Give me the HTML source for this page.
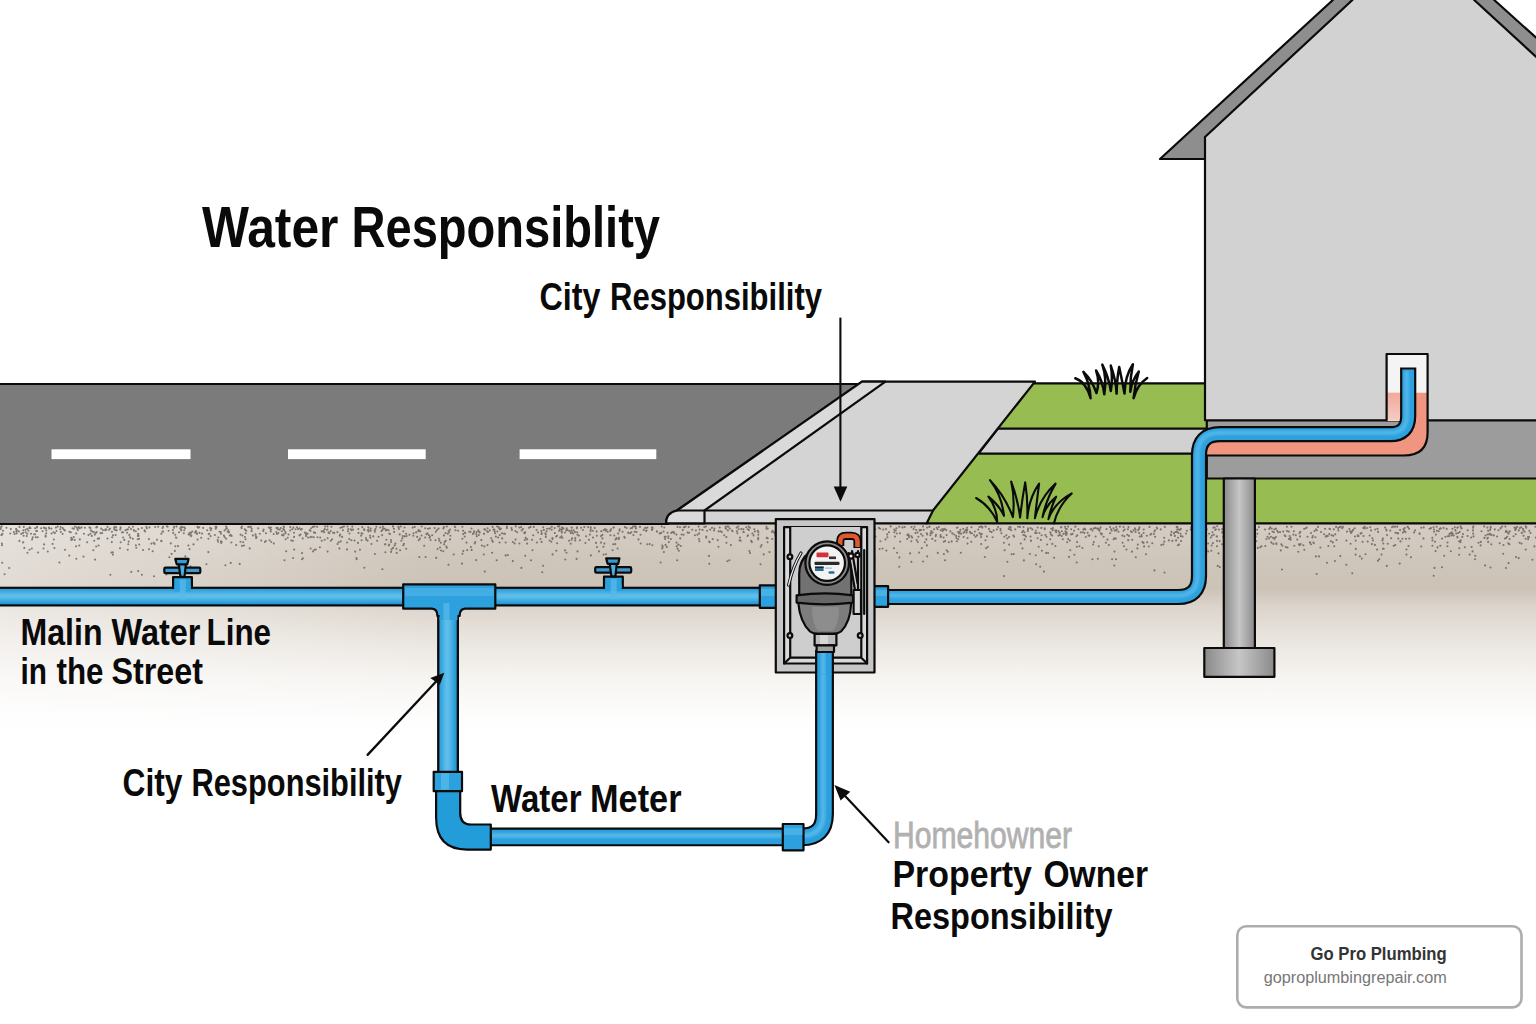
<!DOCTYPE html>
<html><head><meta charset="utf-8"><title>Water Responsibility</title>
<style>
html,body{margin:0;padding:0;background:#fff;}
body{width:1536px;height:1024px;overflow:hidden;font-family:"Liberation Sans",sans-serif;}
svg{display:block;position:absolute;left:0;top:0;}
text{font-family:"Liberation Sans",sans-serif;}
.b{font-weight:bold;fill:#0a0a0a;}
.k{stroke:#0b0b0b;stroke-width:2.2;stroke-linejoin:round;stroke-linecap:round;}
</style></head><body>
<svg width="1536" height="1024" viewBox="0 0 1536 1024">
<defs>
<linearGradient id="soil" x1="0" y1="524" x2="0" y2="740" gradientUnits="userSpaceOnUse">
<stop offset="0" stop-color="#d5cdc3"/><stop offset="0.167" stop-color="#cfc6bb"/><stop offset="0.296" stop-color="#ccc2b6"/><stop offset="0.385" stop-color="#dcd5cc"/><stop offset="0.528" stop-color="#e9e4de"/><stop offset="0.708" stop-color="#f6f4f1"/><stop offset="0.907" stop-color="#fefefe"/><stop offset="1" stop-color="#ffffff"/>
</linearGradient>
<linearGradient id="soilL" x1="0" y1="0" x2="430" y2="0" gradientUnits="userSpaceOnUse">
<stop offset="0" stop-color="#fff" stop-opacity="0.42"/><stop offset="0.6" stop-color="#fff" stop-opacity="0.2"/><stop offset="1" stop-color="#fff" stop-opacity="0"/>
</linearGradient>
<linearGradient id="ph" x1="0" y1="0" x2="0" y2="1">
<stop offset="0" stop-color="#2a9cda"/><stop offset="0.42" stop-color="#60bfec"/><stop offset="0.58" stop-color="#56b9e9"/><stop offset="1" stop-color="#1f94d5"/>
</linearGradient>
<linearGradient id="pv" x1="0" y1="0" x2="1" y2="0">
<stop offset="0" stop-color="#2a9cda"/><stop offset="0.42" stop-color="#60bfec"/><stop offset="0.58" stop-color="#56b9e9"/><stop offset="1" stop-color="#1f94d5"/>
</linearGradient>
<linearGradient id="pier" x1="0" y1="0" x2="1" y2="0">
<stop offset="0" stop-color="#8a8a8a"/><stop offset="0.5" stop-color="#c6c6c6"/><stop offset="1" stop-color="#8a8a8a"/>
</linearGradient>
<linearGradient id="salm" x1="0" y1="393" x2="0" y2="421" gradientUnits="userSpaceOnUse">
<stop offset="0" stop-color="#f1a99a"/><stop offset="1" stop-color="#f5cdc4"/>
</linearGradient>
<filter id="soft" x="-5%" y="-5%" width="110%" height="110%"><feGaussianBlur stdDeviation="1.1"/></filter>
</defs>
<!-- SOIL -->
<rect x="0" y="522" width="1536" height="220" fill="url(#soil)"/>
<rect x="0" y="522" width="430" height="220" fill="url(#soilL)"/>
<path d="M694.9 535.3h0M1419.6 533.2h0M780.0 536.0h0M283.6 534.2h0M967.5 543.6h0M144.6 530.3h0M139.3 544.5h0M1065.1 526.8h0M1508.6 563.1h0M1004.4 536.8h0M241.9 526.5h0M811.6 527.0h0M292.2 529.3h0M46.2 533.2h0M676.7 546.6h0M797.4 537.5h0M767.7 538.2h0M702.5 529.9h0M1290.6 539.8h0M484.3 529.2h0M444.0 527.1h0M1177.0 531.9h0M1300.4 531.7h0M1471.6 547.0h0M0.8 528.9h0M1398.2 533.3h0M1505.8 531.9h0M112.2 537.2h0M1195.8 529.8h0M133.9 530.7h0M1480.8 541.9h0M181.2 529.4h0M155.2 527.0h0M1224.2 528.5h0M859.1 532.8h0M292.9 540.8h0M201.2 537.7h0M179.0 532.3h0M327.0 529.8h0M1491.3 544.2h0M467.2 550.1h0M323.7 531.8h0M1312.3 537.6h0M154.1 576.2h0M327.5 529.6h0M1186.9 530.7h0M455.2 527.1h0M138.4 535.9h0M373.3 536.4h0M570.9 532.9h0M1473.2 533.6h0M882.5 548.5h0M280.8 528.1h0M1395.3 545.0h0M383.2 528.6h0M1135.8 557.3h0M302.0 559.3h0M1355.0 536.5h0M647.4 527.5h0M59.4 562.5h0M366.2 539.7h0M394.7 545.4h0M916.2 530.1h0M269.5 540.3h0M105.6 529.2h0M859.2 547.3h0M943.6 529.9h0M1409.1 528.8h0M25.5 529.7h0M684.6 527.0h0M270.7 531.4h0M878.9 527.9h0M556.3 550.7h0M1506.0 538.1h0M1061.7 536.0h0M215.6 526.7h0M27.5 552.8h0M1076.7 562.5h0M32.7 537.4h0M740.7 540.7h0M115.6 535.0h0M1132.0 551.7h0M1132.2 539.7h0M1218.5 553.4h0M540.4 539.0h0M1383.7 548.8h0M640.7 543.5h0M1326.3 535.7h0M959.9 531.6h0M895.0 536.6h0M123.2 537.5h0M1525.7 549.6h0M1118.5 531.7h0M1129.0 535.9h0M676.6 546.3h0M128.7 541.6h0M45.8 536.4h0M738.7 529.2h0M1072.6 533.9h0M943.9 554.1h0M393.0 526.4h0M462.4 538.8h0M311.2 528.3h0M1391.2 538.2h0M678.8 550.8h0M502.2 538.4h0M304.9 532.5h0M1238.0 553.3h0M1352.1 531.6h0M895.7 530.5h0M209.2 533.8h0M1285.8 547.1h0M1092.4 559.3h0M425.2 528.3h0M692.2 529.8h0M328.8 532.2h0M961.1 533.8h0M484.4 546.4h0M1508.4 532.9h0M114.7 526.7h0M1340.7 526.8h0M1088.5 535.6h0M474.7 543.5h0M29.4 527.9h0M698.6 526.6h0M1274.4 529.3h0M216.4 526.8h0M966.4 532.8h0M967.6 538.0h0M1240.1 561.3h0M1051.4 528.7h0M729.8 528.5h0M16.5 533.3h0M1097.0 528.5h0M418.3 531.0h0M1071.1 534.4h0M943.8 541.8h0M604.4 543.6h0M1392.0 527.3h0M1432.5 540.4h0M199.5 532.9h0M960.8 552.8h0M578.8 535.6h0M1350.6 543.8h0M1450.4 533.2h0M1000.4 528.8h0M1108.9 545.1h0M985.5 540.2h0M327.6 551.6h0M1506.0 568.0h0M824.8 543.5h0M492.1 552.8h0M1314.5 531.0h0M127.1 532.7h0M845.3 542.4h0M748.7 526.6h0M1242.8 527.0h0M1228.6 528.4h0M514.6 543.4h0M215.8 528.1h0M793.4 540.4h0M1290.2 539.2h0M1452.7 533.8h0M1457.9 527.3h0M340.1 534.5h0M445.7 540.7h0M981.3 534.4h0M1295.8 535.3h0M478.8 531.6h0M1298.3 551.7h0M319.9 547.2h0M1487.5 534.5h0M880.1 528.8h0M823.1 534.0h0M929.6 526.6h0M1489.0 534.3h0M615.3 544.1h0M864.6 533.7h0M1061.4 527.0h0M827.5 532.2h0M1469.7 554.6h0M413.5 533.3h0M195.0 532.6h0M1252.9 551.7h0M732.0 530.5h0M294.1 536.9h0M1421.2 527.8h0M1197.0 526.6h0M298.1 529.1h0M1055.3 530.6h0M545.8 536.9h0M161.1 540.7h0M188.6 534.2h0M384.9 528.7h0M814.6 532.6h0M577.1 532.2h0M813.1 528.2h0M313.8 537.3h0M980.7 534.6h0M1307.5 536.7h0M1316.0 529.2h0M1137.8 544.6h0M1386.5 530.5h0M483.8 554.5h0M1363.3 527.9h0M367.6 540.6h0M398.6 527.4h0M1278.2 532.3h0M1213.3 527.8h0M618.7 539.0h0M27.3 528.8h0M1048.1 553.0h0M1487.4 527.6h0M776.7 541.9h0M772.3 539.0h0M290.3 527.1h0M163.1 526.7h0M847.4 534.3h0M873.6 528.0h0M283.4 528.8h0M1423.7 527.4h0M95.1 559.6h0M709.7 542.2h0M502.0 533.2h0M791.5 532.5h0M923.0 526.4h0M1076.8 546.8h0M278.4 533.0h0M1135.6 532.0h0M299.7 528.3h0M787.3 526.5h0M1371.9 544.1h0M1082.4 548.0h0M966.7 532.0h0M921.0 534.0h0M1509.4 544.3h0M396.7 552.9h0M1143.5 542.9h0M1251.3 532.0h0M1377.1 549.6h0M1067.2 542.3h0M1175.4 532.0h0M1110.0 527.1h0M524.9 533.3h0M16.3 531.1h0M981.1 537.1h0M356.5 558.1h0M1023.1 530.8h0M1013.4 535.6h0M818.8 531.7h0M1535.8 537.6h0M1077.1 542.1h0M1505.4 526.6h0M945.2 541.1h0M394.2 531.9h0M77.5 528.7h0M577.0 527.4h0M385.4 552.3h0M844.9 534.1h0M1485.5 535.5h0M1528.5 537.5h0M1243.4 527.2h0M917.8 542.0h0M69.3 555.6h0M245.7 533.3h0M259.8 533.8h0M938.8 527.0h0M1451.9 532.3h0M809.1 536.3h0M561.5 530.0h0M1006.3 535.3h0M435.5 540.2h0M454.7 526.5h0M376.4 526.8h0M240.5 541.8h0M599.0 551.4h0M1149.5 526.9h0M1518.7 558.1h0M112.9 552.3h0M659.7 533.4h0M1494.8 529.4h0M803.9 556.8h0M1110.1 533.2h0M1503.5 545.0h0M927.2 527.6h0M958.8 533.0h0M312.8 526.9h0M811.2 527.8h0M680.2 538.4h0M699.7 529.6h0M894.3 532.3h0M1195.0 534.6h0M1532.4 559.8h0M1127.9 529.3h0M174.9 550.9h0M1204.7 537.1h0M551.7 529.8h0M1052.2 535.5h0M908.8 537.3h0M1157.1 528.6h0M382.4 569.2h0M1406.5 549.5h0M60.7 527.0h0M416.2 532.4h0M957.5 527.5h0M832.0 527.1h0M132.8 538.7h0M845.8 537.3h0M573.2 533.5h0M323.5 530.9h0M1144.1 546.4h0M114.2 527.7h0M1242.9 537.1h0M1180.8 528.9h0M651.8 529.6h0M1244.0 531.4h0M1004.0 576.1h0M499.8 535.0h0M1146.0 554.2h0M656.9 531.4h0M149.0 549.2h0M120.6 527.3h0M866.6 533.6h0M1052.7 530.2h0M1191.2 527.2h0M327.6 538.2h0M125.5 530.3h0M1113.6 539.3h0M434.6 528.0h0M549.6 540.5h0M562.8 527.7h0M1089.4 535.6h0M1410.9 557.2h0M1402.9 532.6h0M1233.5 530.3h0M487.9 531.9h0M1435.6 551.1h0M381.4 531.2h0M561.5 531.3h0M607.7 531.7h0M299.5 535.4h0M1224.3 534.9h0M1284.7 535.4h0M271.2 542.0h0M1353.1 529.9h0M34.1 534.3h0M835.8 535.5h0M1484.4 537.9h0M1235.4 527.0h0M839.9 543.4h0M129.1 527.2h0M1132.1 551.5h0M130.1 537.4h0M221.0 541.4h0M996.9 529.4h0M338.6 542.2h0M801.1 542.2h0M605.8 530.8h0M1487.3 538.6h0M758.3 534.8h0M1107.4 539.8h0M1405.4 532.1h0M1269.1 538.4h0M1311.0 544.3h0M1280.8 550.4h0M1471.2 537.5h0M804.6 539.9h0M1232.3 532.3h0M645.8 528.0h0M576.8 528.3h0M313.9 532.4h0M448.5 564.8h0M90.9 530.4h0M176.4 537.8h0M1191.8 528.5h0M95.8 533.1h0M897.1 552.7h0M55.9 527.6h0M283.5 529.0h0M361.6 540.2h0M913.6 529.1h0M284.1 529.9h0M265.0 541.9h0M478.8 535.0h0M1255.1 533.5h0M400.1 550.3h0M1404.3 530.9h0M840.7 560.9h0M741.3 529.0h0M76.3 558.7h0M1231.0 531.6h0M810.4 534.3h0M1010.0 529.3h0M16.7 533.3h0M570.7 543.8h0M1095.6 536.5h0M241.6 528.2h0M494.3 529.6h0M1335.2 534.3h0M409.4 534.7h0M231.4 542.5h0M2.1 545.2h0M1299.7 545.3h0M126.6 529.8h0M1100.6 527.4h0M737.4 533.3h0M1467.6 536.0h0M1316.9 530.3h0M1212.4 532.2h0M1408.1 527.3h0M1269.2 528.9h0M834.6 534.5h0M242.0 545.9h0M478.3 530.4h0M116.8 530.3h0M717.7 540.1h0M552.5 539.1h0M162.4 531.8h0M709.3 563.8h0M1274.5 538.0h0M19.0 531.5h0M1090.6 529.3h0M866.5 533.0h0M1228.0 528.8h0M946.3 530.1h0M577.5 534.8h0M458.0 530.8h0M602.4 538.4h0M393.9 528.8h0M1123.5 530.7h0M1451.6 535.4h0M1111.7 530.7h0M1270.1 527.4h0M216.3 527.4h0M1040.9 539.9h0M276.3 532.0h0M1285.5 536.2h0M138.4 529.1h0M241.3 527.8h0M624.9 527.1h0M1414.1 532.4h0M785.8 537.8h0M1177.9 545.2h0M592.8 530.7h0M633.0 526.5h0M615.5 539.5h0M1508.3 543.4h0M1014.1 536.6h0M28.5 530.7h0M525.7 537.9h0M163.2 531.5h0M782.4 543.4h0M1267.5 536.7h0M243.2 542.3h0M1387.0 535.0h0M541.5 533.9h0M217.7 540.0h0M1515.7 534.3h0M1098.8 546.2h0M302.9 558.2h0M963.2 528.7h0M127.9 529.4h0M885.5 539.4h0M505.6 555.4h0M554.8 533.1h0M190.5 566.3h0M208.3 552.1h0M834.7 535.3h0M860.7 529.7h0M1255.7 536.4h0M188.4 545.5h0M443.3 551.3h0M370.0 535.7h0M1276.0 528.6h0M841.5 527.2h0M49.2 528.5h0M1516.0 557.1h0M1011.3 530.3h0M1031.0 541.0h0M586.2 536.2h0M1234.7 526.5h0M306.5 533.2h0M219.6 531.7h0M874.8 528.4h0M798.4 529.7h0M872.5 530.7h0M985.7 526.7h0M1030.6 528.0h0M1473.5 536.4h0M721.8 532.1h0M958.2 539.2h0M1164.3 541.6h0M1287.5 547.5h0M628.3 532.6h0M869.3 552.2h0M807.9 534.5h0M663.9 552.1h0M492.6 526.9h0M1114.5 551.6h0M1124.4 536.3h0M1154.9 530.3h0M911.5 527.1h0M191.1 532.8h0M772.0 531.9h0M79.8 539.4h0M808.3 529.3h0M470.5 531.8h0M362.3 527.1h0M1399.7 563.6h0M1022.5 548.4h0M647.3 544.3h0M340.7 541.4h0M870.6 552.0h0M151.4 543.6h0M190.2 534.8h0M1460.7 526.3h0M374.7 530.2h0M498.8 527.0h0M1374.9 544.9h0M610.2 531.1h0M899.3 526.8h0M47.8 551.5h0M472.9 533.9h0M1434.5 567.9h0M726.0 528.8h0M453.7 554.5h0M1377.5 528.7h0M1287.0 531.1h0M725.7 528.4h0M310.3 537.3h0M294.2 549.6h0M76.8 527.5h0M1114.8 530.4h0M1382.9 548.7h0M1095.4 527.9h0M1069.0 556.9h0M683.8 527.2h0M342.9 530.3h0M1091.4 528.7h0M278.0 529.3h0M1020.8 543.5h0M572.2 538.2h0M1358.5 536.1h0M351.7 530.2h0M1423.5 538.4h0M425.2 537.5h0M138.2 571.1h0M676.4 534.6h0M815.3 526.8h0M921.1 530.0h0M385.4 544.2h0M133.9 530.0h0M1160.7 529.4h0M428.7 535.0h0M286.2 551.3h0M1517.2 526.7h0M709.1 541.6h0M590.9 555.4h0M767.8 528.5h0M854.0 537.7h0M552.4 538.1h0M1202.7 534.3h0M776.6 546.8h0M1051.0 534.4h0M1461.6 528.4h0M1197.5 528.3h0M934.0 529.3h0M676.5 542.6h0M1208.2 543.5h0M362.4 533.7h0M339.8 535.8h0M766.4 526.7h0M916.7 540.1h0M879.6 549.0h0M276.5 528.1h0M27.3 533.8h0M667.6 532.7h0M403.9 543.9h0M111.4 552.5h0M873.8 534.9h0M1215.9 529.3h0M224.6 530.4h0M65.0 530.5h0M954.2 534.5h0M406.6 536.1h0M135.9 545.2h0M263.6 529.5h0M245.5 539.2h0M1276.3 543.3h0M93.9 532.1h0M559.8 529.0h0M1490.7 526.8h0M751.9 542.1h0M1514.8 528.0h0M699.4 541.3h0M60.2 529.3h0M1367.2 528.0h0M603.5 530.2h0M651.9 527.2h0M1172.4 540.9h0M353.1 529.5h0M847.7 529.3h0M709.0 555.9h0M559.1 530.8h0M1507.2 536.7h0M60.9 532.0h0M998.1 527.0h0M527.2 539.4h0M1327.8 536.1h0M1361.5 533.1h0M603.5 546.7h0M585.4 543.0h0M330.8 531.0h0M282.0 535.1h0M251.7 528.8h0M329.4 533.2h0M473.9 532.8h0M1525.7 538.8h0M1325.1 528.8h0M588.2 527.1h0M1061.9 531.3h0M421.7 526.5h0M279.6 529.6h0M603.6 554.6h0M1098.5 529.7h0M554.6 528.1h0M1438.7 531.2h0M1176.1 540.4h0M1393.3 526.5h0M494.7 531.6h0M127.7 549.8h0M499.6 542.5h0M797.6 526.9h0M605.1 529.3h0M62.7 528.1h0M914.5 526.7h0M479.7 532.4h0M835.6 527.9h0M1085.3 529.6h0M1114.3 538.4h0M226.1 528.8h0M430.6 540.0h0M622.6 531.7h0M1330.1 529.1h0M448.6 531.0h0M331.4 526.8h0M37.7 537.2h0M869.3 544.5h0M1498.5 530.2h0M1029.9 554.0h0M332.1 539.2h0M1023.9 560.4h0M1333.8 529.2h0M971.5 527.3h0M657.0 531.8h0M92.3 531.6h0M504.1 533.9h0M429.8 528.2h0M618.2 533.4h0M256.1 538.3h0M368.3 527.4h0M525.1 532.3h0M231.6 535.9h0M1077.3 535.2h0M1075.5 526.6h0M601.1 531.3h0M96.7 532.0h0M83.9 533.8h0M899.9 533.3h0M500.0 529.5h0M36.1 531.0h0M1369.7 535.5h0M402.3 538.4h0M285.7 533.3h0M945.0 560.3h0M557.0 535.7h0M1447.5 542.5h0M963.6 537.0h0M631.2 532.2h0M424.2 545.8h0M1351.3 531.6h0M1397.2 526.7h0M208.7 534.1h0M474.0 531.2h0M1500.6 528.1h0M295.6 529.2h0M1044.7 529.2h0M1.4 534.9h0M605.0 529.3h0M758.2 537.9h0M841.9 537.1h0M861.3 545.9h0M1488.1 530.8h0M532.5 550.2h0M481.3 540.1h0M1068.1 539.1h0M1480.6 545.4h0M244.9 537.0h0M753.6 535.4h0M567.6 530.0h0M1150.4 534.7h0M364.1 529.5h0M499.2 528.5h0M789.1 527.8h0M97.1 527.1h0M157.0 539.7h0M173.2 532.9h0M1186.0 533.5h0M249.7 548.4h0M1336.1 526.9h0M390.0 534.1h0M1223.4 531.8h0M1099.7 529.5h0M1099.4 530.7h0M512.8 542.0h0M1294.4 545.7h0M871.6 532.3h0M1085.8 537.0h0M1276.4 544.1h0M192.3 531.5h0M1028.1 529.2h0M283.6 526.5h0M899.4 557.4h0M1490.6 527.9h0M1056.1 532.3h0M969.9 531.9h0M1433.7 575.7h0M74.8 540.0h0M181.8 526.8h0M439.4 540.8h0M1526.2 527.7h0M507.0 526.6h0M833.4 533.6h0M573.6 530.4h0M1229.5 546.4h0M435.8 531.8h0M948.9 542.2h0M1506.8 531.7h0M1066.1 535.0h0M1229.1 528.0h0M268.9 527.5h0M1433.9 529.5h0M750.0 527.7h0M497.1 526.5h0M869.3 528.0h0M960.4 529.8h0M349.5 533.5h0M561.9 529.6h0M78.7 527.0h0M1371.1 530.4h0M120.5 528.5h0M310.6 548.5h0M743.8 532.2h0M1239.6 531.8h0M88.5 535.1h0M1009.0 537.0h0M425.6 557.0h0M680.8 546.0h0M1113.5 528.4h0M41.1 528.3h0M182.4 527.2h0M551.3 541.7h0M476.2 534.2h0M16.1 528.9h0M1473.4 526.4h0M809.9 544.6h0M1217.0 540.9h0M613.3 544.2h0M1271.3 542.4h0M1514.4 527.5h0M1459.8 532.0h0M1083.3 529.5h0M1397.2 526.6h0M886.0 529.1h0M596.6 531.4h0M1009.1 544.6h0M560.2 537.5h0M543.8 529.9h0M1390.3 530.6h0M144.6 530.8h0M1139.1 528.9h0M1141.6 535.0h0M1044.8 528.4h0M162.5 528.0h0M538.1 532.5h0M14.5 534.0h0M619.5 530.6h0M825.0 559.8h0M314.4 549.7h0M492.9 541.7h0M166.4 574.5h0M660.6 562.5h0M337.4 532.1h0M1084.5 528.5h0M419.9 538.7h0M1455.6 530.6h0M281.8 531.2h0M1519.8 528.1h0M974.9 531.5h0M989.0 528.9h0M946.6 550.3h0M1315.4 537.2h0M775.4 535.5h0M175.3 546.3h0M1059.6 532.9h0M1022.1 532.3h0M590.8 529.2h0M922.6 535.7h0M791.4 526.7h0M963.6 532.8h0M911.4 536.2h0M1431.0 528.1h0M1133.6 530.4h0M617.6 548.5h0M754.3 529.2h0M1290.6 537.8h0M1440.3 545.7h0M1225.2 534.2h0M1526.3 527.0h0M1336.5 540.0h0M385.1 544.4h0M697.4 534.8h0M1329.5 528.7h0M429.5 537.7h0M113.0 535.2h0M1209.0 533.7h0M371.4 544.0h0M1313.4 542.5h0M843.7 552.3h0M1223.8 528.1h0M561.9 527.5h0M56.5 531.0h0M1328.4 546.0h0M180.3 528.5h0M596.9 547.1h0M947.8 551.8h0M110.4 574.8h0M317.5 537.2h0M1346.4 540.6h0M302.7 538.4h0M661.7 526.5h0M521.6 530.5h0M967.2 529.9h0M926.3 539.4h0M277.5 527.8h0M1065.6 533.2h0M198.3 527.7h0M1445.4 536.7h0M549.2 528.7h0M1528.1 539.2h0M1130.9 531.2h0M476.6 532.1h0M224.7 537.3h0M652.4 545.2h0M628.2 533.0h0M778.0 557.6h0M532.0 539.7h0M361.1 535.8h0M437.6 549.0h0M440.0 547.5h0M1039.4 533.0h0M1434.1 531.7h0M1141.7 536.4h0M688.8 527.0h0M643.7 529.9h0M677.2 560.3h0M450.0 539.4h0M1032.3 529.4h0M632.1 527.9h0M1375.3 529.5h0M646.1 530.9h0M1260.3 547.2h0M907.3 535.0h0M152.7 551.3h0M135.8 531.3h0M575.2 540.4h0M1027.9 530.9h0M1379.2 559.2h0M35.7 537.3h0M720.7 531.2h0M714.0 530.5h0M1030.5 536.5h0M1490.5 567.5h0M1524.6 531.8h0M1272.8 537.8h0M102.2 533.1h0M616.4 538.0h0M321.7 531.4h0M219.6 531.8h0M1139.4 527.3h0M256.3 537.8h0M956.9 541.2h0M389.2 544.6h0M1122.6 542.8h0M183.8 533.3h0M24.3 547.9h0M1450.8 551.2h0M37.1 531.1h0M823.1 534.7h0M170.8 543.4h0M463.2 534.1h0M191.4 535.5h0M199.2 527.3h0M786.7 530.1h0M1194.2 529.4h0M635.8 526.9h0M334.3 532.9h0M857.3 533.1h0M1306.7 527.5h0M1305.8 528.2h0M1490.4 534.5h0M624.3 536.7h0M1326.9 562.8h0M634.9 526.4h0M236.2 545.1h0M1128.1 540.0h0M240.5 534.6h0M43.8 527.6h0M462.0 563.6h0M987.7 547.0h0M70.8 532.2h0M120.3 529.6h0M171.6 553.9h0M505.0 533.7h0M1004.6 550.3h0M1453.7 535.5h0M769.5 552.1h0M605.9 530.2h0M1135.6 529.6h0M565.0 532.5h0M732.5 531.2h0M661.2 532.9h0M76.1 546.2h0M94.8 534.6h0M841.0 531.9h0M342.0 527.4h0M571.3 530.5h0M743.4 529.2h0M1151.2 533.7h0M13.8 532.0h0M1484.2 526.4h0M911.4 561.9h0M561.6 536.3h0M566.6 530.2h0M935.7 536.1h0M484.0 533.9h0M792.9 541.7h0M81.5 527.4h0M387.0 529.8h0M1222.1 532.4h0M1321.0 532.0h0M438.9 538.8h0M131.3 571.9h0M1277.2 530.7h0M487.5 545.1h0M1210.8 537.6h0M87.2 542.2h0M73.7 537.1h0M848.0 555.1h0M981.0 526.5h0M1435.1 541.7h0M890.6 526.4h0M1131.9 532.3h0M1043.9 571.6h0M1408.1 527.2h0M1200.2 532.7h0M1154.4 531.5h0M687.6 532.6h0M181.2 530.5h0M1128.5 527.1h0M178.0 546.1h0M1023.4 535.0h0M173.9 527.7h0M476.2 560.1h0M860.5 554.4h0M324.3 532.2h0M823.8 546.4h0M189.5 549.1h0M725.6 526.7h0M663.5 531.5h0M1035.8 555.3h0M758.2 539.2h0M596.0 542.9h0M161.6 541.2h0M255.8 536.0h0M310.5 531.0h0M251.7 531.0h0M908.4 534.4h0M596.8 535.7h0M1293.8 531.2h0M896.8 533.5h0M1506.2 530.7h0M1071.2 529.2h0M401.3 540.7h0M883.2 529.6h0M98.6 545.5h0M580.0 540.2h0M664.7 536.9h0M859.4 567.2h0M1397.2 533.0h0M747.7 529.2h0M1156.8 527.5h0M470.9 547.0h0M53.9 539.5h0M872.6 535.1h0M511.5 528.1h0M1460.5 542.2h0M1237.6 527.4h0M1204.3 529.0h0M306.1 534.7h0M936.7 527.7h0M1174.9 535.9h0M1381.5 554.6h0M1058.7 531.3h0M1460.8 540.2h0M446.8 547.7h0M1116.5 529.7h0M382.8 526.5h0M825.2 529.5h0M450.1 529.5h0M202.1 533.6h0M418.7 530.0h0M426.4 534.1h0M1342.2 528.2h0M1320.4 547.5h0M936.0 534.9h0M1127.3 534.7h0M1013.7 554.0h0M1190.7 529.6h0M83.5 556.6h0M557.1 543.3h0M358.5 532.9h0M569.1 540.7h0M1449.4 534.0h0M869.4 531.0h0M356.6 559.2h0M169.4 557.3h0M1009.4 527.1h0M1385.1 527.5h0M868.5 527.7h0M1518.8 530.4h0M1339.6 527.0h0M1023.5 527.1h0M45.6 535.6h0M1509.6 539.0h0M1313.8 543.2h0M800.5 527.2h0M809.5 528.5h0M809.0 531.1h0M766.5 528.7h0M1083.0 532.2h0M746.3 527.2h0M748.0 535.3h0M1493.8 535.4h0M207.2 530.2h0M515.5 539.6h0M1442.1 567.3h0M1459.1 554.8h0M1318.9 556.4h0M31.0 533.7h0M907.2 539.0h0M941.2 536.7h0M1433.5 527.3h0M797.6 561.6h0M48.9 527.6h0M1334.9 561.0h0M37.0 526.7h0M1274.5 539.1h0M798.4 535.8h0M1163.3 544.4h0M1.0 527.1h0M1219.8 567.1h0M1280.1 532.1h0M515.4 531.0h0M23.0 542.5h0M402.8 536.0h0M808.1 530.8h0M1036.6 533.0h0M360.0 549.8h0M269.9 528.1h0M389.3 533.5h0M1203.7 530.8h0M366.0 538.0h0M399.7 534.4h0M391.6 549.4h0M283.4 529.2h0M463.1 530.7h0M1115.8 538.6h0M1213.9 534.8h0M120.7 542.2h0M375.5 529.0h0M569.4 531.1h0M594.7 527.9h0M1212.9 543.1h0M519.4 543.5h0M582.9 530.0h0M911.3 541.2h0M730.9 545.1h0M21.3 533.9h0M584.3 527.0h0M1404.7 528.0h0M315.8 549.5h0M1475.3 555.8h0M525.2 555.7h0M217.7 540.1h0M1452.4 528.7h0M208.4 538.8h0M1355.6 540.6h0M1458.1 533.0h0M571.9 527.7h0M419.3 557.0h0M110.1 528.5h0M533.8 526.9h0M471.5 528.5h0M188.6 534.5h0M829.9 535.5h0M1170.9 534.5h0M1454.8 527.2h0M342.4 527.2h0M475.3 542.0h0M1419.6 534.0h0M246.3 530.7h0M873.1 530.1h0M1217.7 565.9h0M706.2 536.5h0M1299.5 533.2h0M293.1 558.0h0M1502.1 526.6h0M1171.5 531.9h0M79.7 528.3h0M265.8 541.0h0M325.0 526.5h0M337.5 544.0h0M766.7 537.9h0M714.4 528.5h0M23.3 530.3h0M63.8 529.6h0M950.4 531.4h0M726.4 537.1h0M487.1 531.2h0M1357.7 535.9h0M640.5 534.8h0M707.1 530.7h0M1403.4 529.2h0M1437.5 547.4h0M1354.7 528.3h0M781.6 572.2h0M443.4 528.4h0M1111.1 529.2h0M896.5 528.2h0M1455.3 530.0h0M148.9 539.1h0M533.2 535.3h0M763.7 554.4h0M789.8 531.5h0M2.5 533.8h0M413.3 535.7h0M970.6 533.1h0M138.1 533.9h0M740.0 537.6h0M1490.1 529.9h0M680.0 527.3h0M1228.7 529.2h0M1273.4 543.9h0M391.1 551.9h0M774.1 532.4h0M852.7 558.4h0M752.4 533.5h0M446.4 546.5h0M772.6 530.9h0M301.8 529.0h0M1281.3 544.2h0M1503.2 553.7h0M1052.3 543.9h0M1093.1 544.5h0M1230.8 528.4h0M1251.4 530.3h0M374.9 554.0h0M35.1 534.2h0M527.1 543.6h0M937.8 552.9h0M1432.3 537.7h0M99.1 538.4h0M168.0 570.6h0M1338.4 530.4h0M285.6 539.3h0M1164.5 572.5h0M956.8 527.8h0M1116.2 527.0h0M1332.8 542.4h0M1206.3 549.1h0M874.2 557.9h0M981.7 533.7h0M590.6 531.1h0M35.2 528.2h0M1222.1 529.2h0M1004.0 542.7h0M1066.7 534.3h0M485.3 529.8h0M287.7 537.8h0M1054.1 557.7h0M507.8 555.1h0M1400.1 530.1h0M1462.3 536.9h0M1478.5 542.7h0M511.9 529.9h0M802.6 533.7h0M54.4 548.1h0M822.5 533.3h0M1143.7 529.5h0M306.0 535.9h0M370.7 530.7h0M107.5 526.9h0M545.8 534.5h0M1457.5 537.5h0M636.5 532.0h0M361.5 533.4h0M1473.1 527.7h0M665.1 539.0h0M1171.1 535.2h0M984.8 557.0h0M1386.3 529.5h0M810.6 528.6h0M1176.7 526.9h0M230.9 535.1h0M418.7 540.3h0M1116.3 530.5h0M1178.0 537.8h0M1084.4 533.0h0M664.3 527.5h0M729.4 560.3h0M1364.7 526.9h0M109.1 529.8h0M1066.7 532.6h0M196.4 532.4h0M880.4 541.3h0M619.0 537.8h0M1046.5 536.8h0M71.3 539.9h0M197.5 526.9h0M727.5 526.5h0M111.9 531.8h0M719.7 527.5h0M1464.9 547.3h0M747.5 536.0h0M484.8 571.6h0M184.2 530.3h0M339.4 548.4h0M781.5 532.1h0M612.6 550.3h0M395.4 543.5h0M1087.6 532.8h0M561.9 532.6h0M695.9 530.5h0M958.2 532.1h0M466.5 542.6h0M699.1 533.4h0M1351.0 533.0h0M577.5 551.4h0M1499.7 543.2h0M616.6 538.5h0M1138.1 530.2h0M1112.1 559.2h0M1007.3 538.5h0M668.3 538.0h0M347.1 542.5h0M828.1 569.3h0M524.8 540.0h0M25.7 532.2h0M1177.2 529.6h0M942.4 529.0h0M302.0 553.1h0M91.8 535.9h0M1261.5 546.3h0M601.0 536.1h0M1093.8 542.1h0M1146.8 535.8h0M386.4 539.7h0M862.1 534.9h0M1516.1 527.9h0M1199.1 530.6h0M1116.0 559.3h0M421.5 535.5h0M811.5 533.8h0M256.6 537.1h0M1372.4 538.3h0M444.1 544.3h0M645.1 528.0h0M930.6 533.1h0M874.7 560.0h0M541.6 541.9h0M115.7 530.2h0M1062.8 539.2h0M1272.5 531.6h0M420.3 531.2h0M825.3 526.6h0M575.3 538.1h0M228.3 530.4h0M1340.3 556.1h0M383.6 528.5h0M180.8 527.3h0M1219.7 541.1h0M406.1 533.7h0M1068.1 526.6h0M1257.8 547.9h0M324.6 539.7h0M1074.1 530.8h0M1349.3 529.0h0M727.9 530.4h0M678.7 544.7h0M875.5 536.6h0M1516.0 529.1h0M342.1 536.9h0M230.7 562.9h0M524.2 532.7h0M662.3 545.6h0M1406.0 538.7h0M263.3 531.1h0M1085.0 529.0h0M1355.8 548.9h0M347.9 531.3h0M351.4 540.2h0M72.4 539.4h0M96.2 546.5h0M834.4 535.9h0M146.3 526.8h0M542.3 572.3h0M921.8 548.1h0M96.2 527.5h0M32.1 539.4h0M270.9 529.8h0M1024.6 539.4h0M495.2 533.2h0M444.0 535.4h0M546.6 531.2h0M382.3 530.1h0M400.8 526.5h0M476.8 536.2h0M412.7 527.6h0M1299.5 533.3h0M786.1 530.4h0M1362.6 541.7h0M956.4 538.1h0M1063.5 533.9h0M634.6 531.7h0M774.4 533.3h0M812.4 534.7h0M1211.3 550.8h0M344.0 526.5h0M462.4 526.7h0M1223.2 537.0h0M438.6 528.6h0M1334.2 546.2h0M1050.1 539.2h0M1143.6 533.0h0M610.4 535.2h0M1408.5 546.1h0M114.3 529.4h0M1491.5 534.9h0M790.8 530.4h0M1324.0 534.3h0M1521.2 527.2h0M1525.7 526.4h0M227.7 531.7h0M982.3 527.6h0M863.9 557.1h0M668.9 542.1h0M909.1 535.9h0M266.0 533.2h0M1382.9 538.6h0M333.0 532.8h0M834.9 530.8h0M887.4 537.3h0M27.4 529.0h0M1008.7 529.0h0M111.8 542.1h0M512.8 561.1h0M858.3 527.5h0M978.2 529.6h0M1251.0 540.5h0M1164.8 526.9h0M52.6 543.9h0M215.8 528.8h0M46.0 528.3h0M727.4 561.2h0M493.5 529.6h0M1271.7 528.5h0M975.5 536.8h0M1436.7 526.8h0M865.0 531.6h0M1265.1 529.5h0M1098.2 528.6h0M760.5 564.3h0M368.5 529.9h0M1409.3 538.6h0M101.2 528.6h0M364.3 530.1h0M1297.3 539.6h0M1504.9 538.5h0M964.4 531.6h0M1101.9 533.8h0M90.4 533.8h0M589.9 534.6h0M74.9 526.6h0M1509.7 531.4h0M506.9 528.1h0M910.1 553.4h0M277.0 533.9h0M767.5 542.3h0M868.0 529.3h0M291.3 540.5h0M120.0 548.3h0M51.4 528.6h0M718.5 546.7h0M951.7 541.4h0M1168.9 540.4h0M79.3 545.5h0M226.9 528.2h0M57.7 526.6h0M1347.0 531.6h0M132.9 526.8h0M1300.0 536.4h0M1407.5 526.7h0M172.9 530.0h0M293.4 527.6h0M308.0 537.5h0M258.2 528.3h0M822.6 531.5h0M229.8 535.5h0M780.2 531.7h0M728.5 526.7h0M944.7 528.7h0M515.7 526.4h0M1363.5 536.0h0M602.4 534.9h0M1443.6 527.9h0M588.9 539.8h0M571.6 539.8h0M1395.0 526.8h0M437.0 530.1h0M1152.3 543.2h0M1074.4 554.8h0M285.2 531.8h0M1310.1 542.3h0M173.1 569.2h0M1137.4 548.4h0M556.2 536.5h0M1472.6 551.4h0M886.4 550.6h0M1534.4 546.4h0M1007.4 561.8h0M220.8 532.0h0M866.4 527.9h0M1199.2 527.0h0M965.8 529.9h0M495.9 536.6h0M294.0 532.8h0M1316.7 574.0h0M403.3 531.3h0M1065.6 528.6h0M1304.2 528.7h0M855.1 530.9h0M1.7 526.3h0M3.0 530.7h0M979.4 527.0h0M1099.8 529.2h0M739.6 540.4h0M1315.9 556.4h0M646.6 530.5h0M610.5 530.4h0M1139.2 533.1h0M1052.9 528.1h0M1202.4 563.7h0M311.8 536.8h0M249.0 526.7h0M635.9 528.5h0M1122.4 535.6h0M1036.1 564.2h0M89.5 527.4h0M54.9 533.1h0M1266.4 539.0h0M841.4 547.6h0M571.6 527.6h0M985.5 526.6h0M352.3 526.6h0M248.2 527.0h0M816.5 527.8h0M926.9 545.4h0M529.0 527.7h0M1031.0 540.6h0M1357.8 535.2h0M894.0 548.2h0M1040.2 566.8h0M440.8 542.7h0M972.0 533.3h0M16.5 533.4h0M404.6 536.4h0M782.5 534.2h0M90.3 527.9h0M932.3 538.9h0M1521.5 543.6h0M445.6 533.0h0M776.8 544.2h0M606.0 554.2h0M743.4 531.9h0M736.9 531.2h0M1535.4 526.8h0M613.8 527.2h0M1041.3 528.1h0M229.1 532.4h0M924.8 542.2h0M682.8 530.1h0M565.0 550.4h0M327.5 526.4h0M1360.6 533.6h0M203.2 527.9h0M1367.7 541.5h0M98.9 538.7h0M328.5 532.8h0M929.3 526.9h0M1436.9 530.8h0M221.1 543.0h0M167.6 526.7h0M1001.4 533.3h0M1383.3 543.5h0M317.2 526.8h0M926.8 533.3h0M462.5 553.7h0M320.2 537.6h0M112.9 554.6h0M1457.3 536.9h0M492.1 540.5h0M1387.8 543.7h0M62.6 534.0h0M214.9 535.0h0M1459.3 548.3h0M382.2 535.1h0M487.6 528.3h0M1142.4 542.0h0M517.2 532.3h0M1069.8 540.6h0M712.0 527.7h0M146.9 528.3h0M1269.3 533.8h0M989.9 531.3h0M566.7 528.4h0M1497.0 536.5h0M197.6 539.6h0M918.4 536.8h0M1182.6 536.6h0M1346.3 564.8h0M624.7 537.8h0M575.0 532.1h0M562.4 537.8h0M541.4 531.1h0M1300.7 544.0h0M1038.7 546.7h0M593.0 537.6h0M385.9 530.5h0M154.6 543.9h0M1415.1 530.3h0M581.1 527.7h0M218.4 537.5h0M1370.2 527.3h0M391.1 542.0h0M347.0 549.4h0M541.9 533.4h0M309.7 530.1h0M652.1 529.9h0M1119.9 526.6h0M981.2 544.1h0M500.9 528.6h0M184.2 527.2h0M1216.7 536.5h0M23.2 532.9h0M919.6 530.5h0M53.5 532.3h0M543.1 565.7h0M552.6 554.4h0M1333.3 535.7h0M193.5 544.4h0M138.5 535.3h0M149.4 527.4h0M630.6 528.2h0M1523.6 535.8h0M1378.0 560.8h0M1164.2 537.7h0M726.5 542.8h0M1028.1 528.2h0M814.2 532.2h0M791.8 540.0h0M1058.4 535.6h0M1211.6 545.5h0M141.9 528.0h0M72.5 528.2h0M1473.0 530.4h0M674.3 533.2h0M866.9 529.9h0M1196.1 530.7h0M1298.8 544.2h0M1.8 535.0h0M143.0 550.0h0M106.5 529.7h0M1180.8 536.1h0M1024.5 532.2h0M799.6 528.8h0M710.2 529.6h0M1037.6 527.5h0M211.3 528.7h0M818.5 535.9h0M4.6 574.2h0M1283.2 531.6h0M244.0 545.5h0M1500.6 528.5h0M1161.3 545.0h0M1439.6 528.9h0M185.1 528.3h0M355.2 551.6h0M1397.6 533.4h0M195.8 531.1h0M370.4 537.8h0M1105.9 542.8h0M671.3 533.0h0M718.7 531.4h0M699.0 539.0h0M1092.5 530.6h0M870.7 528.0h0M69.4 531.7h0M551.8 526.7h0M122.1 532.4h0M1447.4 546.3h0M46.4 530.5h0M566.3 530.4h0M210.6 536.1h0M1288.8 531.6h0M270.9 527.5h0M23.3 542.2h0M354.5 540.5h0M1214.6 527.3h0M290.2 530.5h0M1181.0 541.0h0M465.2 532.9h0M545.4 533.3h0M1218.9 529.6h0M1244.9 554.1h0M923.1 561.5h0M1440.8 528.4h0M1522.9 528.8h0M1235.9 527.7h0M464.9 532.7h0M1289.0 538.9h0M313.1 551.4h0M1329.3 534.1h0M77.8 530.0h0M449.2 532.3h0M1447.8 536.2h0M1258.9 527.1h0M377.1 540.8h0M522.9 529.1h0M96.8 526.9h0M633.4 535.0h0M614.2 535.5h0M446.8 526.5h0M1035.8 530.8h0M754.9 531.5h0M414.7 526.9h0M455.5 530.2h0M176.5 526.6h0M738.3 526.5h0M1350.1 531.2h0M681.6 534.5h0M37.0 527.5h0M1206.3 535.2h0M757.7 530.9h0M1153.9 534.0h0M1217.0 546.2h0M1373.0 540.5h0M1035.2 533.1h0M819.3 535.8h0M806.8 545.1h0M1318.0 526.9h0M1155.1 536.8h0M919.1 552.6h0M76.2 533.4h0M576.6 558.9h0M252.9 535.4h0M221.7 541.7h0M751.2 540.9h0M471.6 549.9h0M10.8 529.1h0M1126.5 549.5h0M1193.9 529.8h0M124.3 539.9h0M1123.5 527.0h0M1435.9 534.6h0M51.5 533.5h0M519.4 527.5h0M1359.9 556.3h0M190.6 532.8h0M419.9 538.6h0M168.6 530.8h0M630.2 533.3h0M668.4 536.3h0M1444.2 555.8h0M1393.7 545.7h0M350.8 529.4h0M706.2 537.6h0M931.3 531.0h0M1523.4 530.4h0M29.8 527.3h0M321.7 540.7h0M1291.4 526.8h0M364.0 529.4h0M1208.1 551.4h0M404.5 527.5h0M1485.1 565.4h0M1100.7 533.3h0M1147.1 542.3h0M782.3 529.8h0M806.6 538.2h0M498.1 537.5h0M225.4 565.2h0M324.7 529.1h0M1475.0 559.3h0M1421.2 546.5h0M1303.4 545.2h0M870.4 527.1h0M1124.0 546.2h0M1286.9 526.8h0M94.2 540.7h0M749.4 551.0h0M1521.7 532.8h0M1037.6 538.3h0M1065.5 531.3h0M982.3 527.1h0M1382.5 540.4h0M1232.8 533.1h0M315.1 532.9h0M1045.4 535.0h0M166.9 526.3h0M611.0 529.4h0M348.3 529.1h0M638.5 539.4h0M1402.4 538.7h0M31.8 548.5h0M935.3 540.8h0M942.6 531.1h0M521.1 527.1h0M1020.0 526.9h0M1046.1 552.9h0M1025.9 536.6h0M1241.2 561.6h0M706.0 526.5h0M943.6 537.5h0M1325.7 536.7h0M558.1 526.4h0M1275.9 537.1h0M1513.5 536.2h0M1309.8 542.6h0M1521.9 533.1h0M1378.1 531.9h0M17.3 530.6h0M606.5 529.8h0M1061.0 527.4h0M469.3 531.8h0M191.0 536.3h0M649.7 544.1h0M521.4 567.9h0M300.5 534.6h0M347.5 526.5h0M463.3 551.1h0M447.8 533.7h0M804.8 529.7h0M821.5 527.0h0M536.6 530.0h0M1252.5 542.5h0M1076.4 536.2h0M1330.9 541.2h0M84.9 527.8h0M1148.8 546.5h0M1519.6 542.7h0M242.4 535.5h0M958.9 536.5h0M206.5 564.3h0M783.9 529.7h0M1506.7 531.6h0M107.5 538.5h0M398.9 529.0h0M464.7 536.6h0M491.2 538.3h0M1365.5 554.3h0M388.9 545.4h0M137.9 535.9h0M116.1 527.4h0M1457.3 527.8h0M1101.6 534.5h0M1.9 543.6h0M93.3 550.3h0M1257.3 533.8h0M685.5 526.6h0M1075.2 526.7h0M808.1 554.8h0M1041.5 527.7h0M1107.5 539.6h0M505.7 542.5h0M889.0 532.2h0M807.7 529.8h0M441.1 550.5h0M536.9 542.5h0M563.5 528.6h0M2.2 562.7h0M1154.5 570.4h0M904.7 527.0h0M250.8 526.9h0M940.5 537.0h0M1467.7 530.2h0M358.3 529.0h0M226.1 526.6h0M758.4 532.3h0M565.3 559.5h0M481.9 545.6h0M817.9 527.5h0M45.5 536.6h0M1342.9 526.9h0M1078.4 529.2h0M1055.4 546.0h0M1116.9 529.4h0M239.7 563.9h0M1406.5 554.6h0M831.1 526.9h0M566.5 552.8h0M102.9 530.1h0M65.0 549.7h0M543.2 527.2h0M547.0 528.8h0M665.6 536.8h0M1010.7 527.4h0M820.8 526.9h0M678.2 544.5h0M403.2 545.3h0M374.9 531.8h0M1217.2 526.3h0M851.0 534.8h0M1097.9 558.8h0M1066.8 529.1h0M305.7 533.5h0M432.2 535.2h0M137.7 539.3h0M640.0 526.9h0M185.3 556.4h0M1304.3 549.7h0M598.6 572.1h0M261.2 540.5h0M1446.7 528.9h0M6.5 527.8h0M128.3 544.2h0M931.0 533.4h0M175.9 537.6h0M210.3 527.9h0M912.1 537.6h0M1230.2 545.6h0M210.7 530.3h0M221.0 533.7h0M43.5 548.5h0M1047.1 544.5h0M750.1 553.1h0M1282.4 545.7h0M1237.9 529.0h0M530.5 526.9h0M1174.0 533.4h0M1515.1 530.1h0M662.2 548.4h0M1488.2 541.9h0M1355.6 554.6h0M417.2 536.9h0M97.7 538.7h0M1463.0 534.1h0M223.9 535.6h0M100.5 533.1h0M123.1 532.2h0M1256.2 541.1h0M1311.0 533.0h0M677.5 526.9h0M1212.0 535.6h0M626.6 528.0h0M704.3 527.0h0M184.2 527.2h0M652.7 527.9h0M1270.8 536.7h0M1331.6 535.2h0M245.2 529.9h0M1289.6 536.0h0M992.6 537.3h0M73.8 528.8h0M662.8 546.8h0M1449.2 536.1h0M398.5 526.8h0M858.3 532.1h0M1429.6 528.8h0M314.6 526.5h0M44.1 544.4h0M1338.2 528.1h0M23.6 535.7h0M378.6 536.8h0M1400.5 541.4h0M430.0 536.6h0M444.7 542.0h0M396.5 548.7h0M1041.9 550.8h0M531.0 560.2h0M894.3 529.6h0M993.6 530.4h0M174.1 526.7h0M937.6 529.3h0M153.7 542.8h0M218.1 541.8h0M419.3 531.3h0M1432.4 545.7h0M1282.0 569.5h0M927.2 556.4h0M956.2 535.9h0M497.4 531.5h0M875.2 529.4h0M986.1 548.2h0M1106.5 529.1h0M42.6 531.3h0M666.8 546.9h0M840.2 534.3h0M930.4 535.2h0M1041.6 535.3h0M848.9 529.3h0M189.7 532.7h0M1361.8 558.6h0M450.4 535.7h0M796.2 533.0h0M273.8 543.4h0M131.0 529.1h0M428.0 528.8h0M297.1 527.2h0M804.1 528.4h0M987.0 536.4h0M959.5 533.5h0M940.7 530.2h0M712.7 539.1h0M330.8 540.8h0M899.3 566.7h0M946.6 535.1h0M1179.9 530.0h0M572.2 532.5h0M1128.3 540.3h0M284.5 560.2h0M1508.5 533.8h0M1529.1 537.0h0M590.8 527.3h0M26.7 536.1h0M1103.6 536.8h0M1202.4 532.6h0M1139.8 536.5h0M974.1 535.0h0M1024.7 535.3h0M139.1 538.7h0M1080.8 532.4h0M1489.8 533.5h0M255.5 534.2h0M550.0 528.3h0M1364.8 528.4h0M1094.0 528.4h0M136.3 547.8h0M9.2 568.0h0M1395.5 532.8h0M979.5 533.1h0M251.5 531.1h0M677.6 548.7h0M175.2 534.8h0M724.2 535.2h0M1217.0 536.4h0M496.7 560.3h0M919.9 529.8h0M840.9 548.5h0M71.3 537.8h0M748.9 530.0h0M244.8 529.2h0M672.1 532.3h0M923.8 529.8h0M952.3 533.4h0M1222.1 544.3h0M364.3 567.7h0M839.3 530.8h0M391.0 540.0h0M670.9 539.0h0M393.1 547.9h0M406.2 548.8h0M673.5 531.9h0M887.2 534.4h0M841.6 535.3h0M1459.2 541.2h0M141.9 574.8h0M23.8 526.9h0M1257.1 529.8h0M45.2 528.4h0M760.7 546.7h0M30.4 528.3h0M19.5 526.9h0M484.1 533.7h0M1487.9 537.8h0M1312.8 536.1h0M1398.3 538.6h0M368.6 531.4h0M736.7 527.6h0M1419.5 533.6h0M307.6 533.7h0M1236.8 529.8h0M902.5 527.4h0M370.7 528.6h0M776.4 539.1h0M349.2 539.1h0M900.2 541.6h0M1529.3 530.8h0M1530.5 533.0h0M782.8 528.5h0M130.4 537.7h0M158.2 526.7h0M129.3 534.9h0M301.0 529.7h0M1178.2 532.8h0M226.2 538.8h0M1528.0 537.0h0M683.6 534.8h0M1079.4 546.3h0M1206.7 529.4h0M1198.2 527.5h0M197.1 534.1h0M283.5 535.4h0M436.2 557.9h0M665.5 544.9h0M1451.2 532.9h0M1180.5 533.8h0M613.4 527.8h0M1011.6 554.3h0M1056.5 530.5h0M806.6 531.1h0M601.0 542.6h0M10.3 533.5h0M786.2 528.0h0M1124.6 529.5h0M619.6 529.4h0M917.6 532.5h0M1050.3 532.4h0M1203.7 535.1h0M161.3 533.8h0M388.6 530.2h0M1456.2 533.5h0M1134.9 528.2h0M967.0 527.7h0M340.3 527.8h0M38.1 552.5h0M1481.5 531.3h0M19.4 540.9h0M1018.1 526.8h0M1177.5 527.1h0M358.0 542.9h0M1178.5 529.2h0M780.7 544.0h0M927.2 534.5h0M284.0 527.1h0M288.6 534.5h0M915.5 533.1h0M977.0 535.4h0M991.6 532.1h0M1293.4 534.6h0M1352.3 573.2h0M1271.5 542.6h0M1059.9 535.1h0M380.3 527.5h0M1015.3 529.4h0M940.6 535.1h0M932.6 532.5h0M367.8 530.3h0M1070.3 550.2h0M489.7 530.4h0M687.8 532.5h0M971.3 541.8h0M1179.2 544.5h0M1114.3 565.5h0M689.1 532.8h0M1000.6 530.4h0M1273.9 532.3h0M855.4 534.4h0M559.3 526.4h0M427.4 533.4h0M1461.1 527.9h0M1386.8 565.9h0M1215.2 529.9h0M29.5 549.7h0M105.1 530.2h0M1442.1 538.6h0M1265.3 546.0h0M273.7 534.0h0M145.1 531.5h0M761.6 545.0h0" stroke="#55504b" stroke-width="2.1" stroke-linecap="round" fill="none" opacity="0.7"/>
<!-- ROAD -->
<rect x="-5" y="384" width="880" height="140" fill="#7b7b7b"/>
<path d="M-5 384H864 M-5 524H668" class="k" fill="none" stroke-width="2.4"/>
<rect x="51.5" y="449.3" width="139" height="9.8" fill="#fff"/>
<rect x="288" y="449.3" width="137.7" height="9.8" fill="#fff"/>
<rect x="519.6" y="449.3" width="136.7" height="9.8" fill="#fff"/>
<!-- GRASS -->
<path d="M1030 383.3H1206V523.5H920Z" fill="#97bd52"/>
<rect x="1200" y="478" width="340" height="45.5" fill="#97bd52"/>
<path d="M1030 383.3H1206 M926 523.4H1536" class="k" fill="none"/>
<!-- WALKWAY -->
<path d="M998 428.6H1206V453.6H978.5Z" fill="#d1d1d1" class="k"/>
<!-- SIDEWALK + CURB -->
<path d="M862 381.6H1035L933 510.5L926.6 523.4H666Q666 513 677 510.5Z" fill="#d4d4d4" class="k"/>
<path d="M862 381.6H885.4L704.5 510.5V523.4H666Q666 513 677 510.5Z" fill="#dadada" class="k"/>
<path d="M677 510.5H933" fill="none" class="k"/>
<!-- HOUSE -->
<path d="M1205 137L1352.4 0H1474.2L1536 56.6V421H1205Z" fill="#d2d2d2"/>
<path d="M1160 159L1332.9 0H1352.4L1205 137V159Z" fill="#8e8e8e"/>
<path d="M1474.2 0H1494.2L1536 37.6V56.6Z" fill="#8e8e8e"/>
<path d="M1332.9 0L1160 159H1205 M1352.4 0L1205 137V420.3 M1474.2 0L1538 58.5 M1494.2 0L1538 39.4" fill="none" class="k"/>
<!-- SLAB -->
<rect x="1206.8" y="420.3" width="340" height="58.2" fill="#9c9c9c" class="k"/>
<!-- PIER + FOOTING -->
<rect x="1223.8" y="478.5" width="31.1" height="170" fill="url(#pier)" class="k"/>
<rect x="1204.3" y="648" width="70.1" height="28.8" fill="url(#pier)" class="k"/>
<!-- HOUSE BOX + SALMON -->
<rect x="1386.6" y="354" width="41" height="67" fill="#f4f4f4"/>
<rect x="1386.6" y="392.7" width="16" height="28" fill="url(#salm)"/>
<path d="M1406 392.7H1427.6V432.5Q1427.6 455.5 1404 455.5H1207V432H1406Z" fill="#f0957f"/>
<path d="M1386.6 420.3V354H1427.6V432.5Q1427.6 455.5 1404 455.5H1207" fill="none" class="k"/>
<!-- SERVICE LINE (meter -> house) black casing then blue -->
<path id="svc" d="M886 597H1178Q1199 597 1199 576V455Q1199 434.2 1220 434.2H1390Q1408.2 434.2 1408.2 416V367.5" fill="none" stroke="#0b0b0b" stroke-width="16.2" stroke-linejoin="round"/>
<path d="M886 597H1178Q1199 597 1199 576V455Q1199 434.2 1220 434.2H1390Q1408.2 434.2 1408.2 416V369.6" fill="none" stroke="#2da1de" stroke-width="11.8" stroke-linejoin="round"/>
<path d="M886 595.5H1178Q1197.5 595.5 1197.5 576V455Q1197.5 432.7 1220 432.7H1390Q1406.7 432.7 1406.7 416V371" fill="none" stroke="#58baea" stroke-width="4.5" stroke-linejoin="round" opacity="0.8" filter="url(#soft)"/>
<!-- MAIN LINE -->
<rect x="-5" y="586.7" width="781" height="19.8" fill="#0b0b0b"/>
<rect x="-5" y="588.9" width="781" height="15.4" fill="url(#ph)"/>
<!-- DROP + BOTTOM RUN + RISER (city loop) -->
<rect x="437.1" y="600" width="21.9" height="195" fill="#0b0b0b"/>
<rect x="439.4" y="600" width="17.3" height="195" fill="url(#pv)"/>
<path d="M485 836.9H802Q824.5 836.9 824.5 814V660" fill="none" stroke="#0b0b0b" stroke-width="18.9" stroke-linejoin="round"/>
<path d="M485 836.9H802Q824.5 836.9 824.5 814V655" fill="none" stroke="#2b9fdd" stroke-width="14.5" stroke-linejoin="round"/>
<path d="M485 835.6H802Q823.2 835.6 823.2 814V655" fill="none" stroke="#5bbcea" stroke-width="5" stroke-linejoin="round" opacity="0.8" filter="url(#soft)"/>
<!-- TEE sleeve -->
<path d="M403.2 584.3H495.3V608.7H465Q459.6 609 459.6 616H437.4Q437.4 609 432 608.7H403.2Z" fill="#2da1de" class="k"/>
<rect x="405" y="588" width="88.6" height="8" fill="#58baea" opacity="0.55"/>
<rect x="439.6" y="608" width="17.8" height="12" fill="#2da1de"/>
<rect x="443.5" y="603" width="6" height="18" fill="#58baea" opacity="0.7"/>
<!-- elbow (bottom-left) -->
<path d="M436.1 790V817.6Q436.1 849.6 467 849.6H490.8V824.5H470.8Q460.2 824.5 460.2 812.7V790Z" fill="#239cda" class="k"/>
<!-- coupling on drop -->
<rect x="433.7" y="771.8" width="28.3" height="19.4" fill="#2da1de" class="k"/>
<rect x="441" y="773.2" width="8" height="16.6" fill="#5bbcea" opacity="0.7"/>
<!-- coupling bottom-right -->
<rect x="782.8" y="824" width="20.7" height="26.3" fill="#2da1de" class="k"/>
<rect x="784" y="828" width="18.4" height="7" fill="#58baea" opacity="0.6"/>
<!-- stubs into meter box -->
<rect x="759.8" y="585.4" width="17" height="22.4" fill="#2da1de" class="k"/>
<rect x="761" y="589" width="14" height="7" fill="#58baea" opacity="0.6"/>
<rect x="873.5" y="586.2" width="14.6" height="20.6" fill="#2da1de" class="k"/>
<rect x="875" y="590" width="12" height="6" fill="#58baea" opacity="0.6"/>
<!-- VALVES -->
<g transform="translate(182.3 585.5)">
<path d="M-9.2 2.4V-8.3H9.6V2.4" fill="#2da1de" class="k"/>
<rect x="-8.1" y="0" width="16.6" height="6" fill="#2da1de"/>
<rect x="-2.5" y="-6" width="6" height="20" fill="#58baea" opacity="0.75"/>
<rect x="-18" y="-17.8" width="36" height="5.4" rx="1.2" fill="#3a9bd2" class="k" stroke-width="1.8"/>
<path d="M-3.6 -21.5L-1.8 -8.6H2.2L3.6 -21.5Z" fill="#49b0e4" class="k" stroke-width="1.6"/>
<path d="M-7 -26.6H6.2L5 -21.2H-5.6Z" fill="#3a9bd2" class="k" stroke-width="1.9"/>
</g>
<g transform="translate(613.2 585)">
<path d="M-9.2 2.4V-8.3H9.6V2.4" fill="#2da1de" class="k"/>
<rect x="-8.1" y="0" width="16.6" height="6" fill="#2da1de"/>
<rect x="-2.5" y="-6" width="6" height="20" fill="#58baea" opacity="0.75"/>
<rect x="-18" y="-17.8" width="36" height="5.4" rx="1.2" fill="#3a9bd2" class="k" stroke-width="1.8"/>
<path d="M-3.6 -21.5L-1.8 -8.6H2.2L3.6 -21.5Z" fill="#49b0e4" class="k" stroke-width="1.6"/>
<path d="M-7 -26.6H6.2L5 -21.2H-5.6Z" fill="#3a9bd2" class="k" stroke-width="1.9"/>
</g>
<!-- METER BOX -->
<rect x="775.8" y="519.1" width="98.7" height="153.4" fill="#c6c6c6" class="k"/>
<rect x="784.1" y="527.1" width="83" height="136.4" fill="#d9d9d9" class="k" stroke-width="2"/>
<path d="M790.2 527.1V657.7H861.3V527.1Z" fill="#cecece"/>
<path d="M790.2 527.1V657.7H861.3V527.1 M784.1 663.5L790.2 657.7 M867.1 663.5L861.3 657.7" fill="none" class="k" stroke-width="1.8"/>
<!-- right side rods -->
<path d="M858 551V613 M864.2 550V614" fill="none" class="k" stroke-width="1.5"/>
<rect x="853.6" y="590" width="7.4" height="24" fill="#d5d5d5" class="k" stroke-width="1.5"/>
<path d="M852 551L857.5 583 M848.5 553L855 590" fill="none" class="k" stroke-width="1.5"/>
<!-- left wire -->
<path d="M801 553Q793 566 788.6 585" fill="none" stroke="#0b0b0b" stroke-width="3.2" stroke-linecap="round"/>
<path d="M801 553Q793 566 788.6 585" fill="none" stroke="#dfe9f2" stroke-width="1.4" stroke-linecap="round"/>
<!-- bolts -->
<circle cx="789.9" cy="556.8" r="2.4" fill="#c9c9c9" class="k" stroke-width="1.5"/>
<circle cx="789.9" cy="635.6" r="2.4" fill="#c9c9c9" class="k" stroke-width="1.5"/>
<circle cx="860.2" cy="635.6" r="2.4" fill="#c9c9c9" class="k" stroke-width="1.5"/>
<circle cx="851" cy="556" r="2.6" fill="#e6e6e6" class="k" stroke-width="1.5"/>
<circle cx="857.5" cy="555" r="2.2" fill="#e6e6e6" class="k" stroke-width="1.4"/>
<!-- orange handle -->
<path d="M840.2 546V541.5Q840.2 535.8 846 535.8H851.5Q857.5 535.8 857.5 541.5V548" fill="none" stroke="#0b0b0b" stroke-width="8.2" stroke-linecap="butt"/>
<path d="M840.2 545V541.5Q840.2 535.8 846 535.8H851.5Q857.5 535.8 857.5 541.5V547" fill="none" stroke="#e0592c" stroke-width="4.6" stroke-linecap="butt"/>
<!-- blue riser inside box -->
<rect x="815.05" y="650" width="18.9" height="24" fill="#0b0b0b"/>
<rect x="817.25" y="650" width="14.5" height="25" fill="#2b9fdd"/>
<rect x="820.7" y="650" width="5" height="25" fill="#5bbcea" opacity="0.8" filter="url(#soft)"/>
<!-- meter body -->
<path d="M799.2 574Q799 560 810 552H844Q851.5 560 851.3 574V596H799.2Z" fill="#727272" class="k"/>
<path d="M798.3 603H851.2Q850.5 622 841 631.5Q838 633.8 833 633.8H818Q813 633.8 810 631.5Q800 622 798.3 603Z" fill="#7d7d7d" class="k"/>
<path d="M812 607Q812 624 818 631H833Q839 624 839 607Z" fill="#9a9a9a" opacity="0.55"/>
<path d="M796.6 595.4Q825 591.5 853 595.4V602.6Q825 606 796.6 602.6Z" fill="#666" class="k"/>
<!-- neck -->
<rect x="814.6" y="633.8" width="21.8" height="11.6" fill="#bdbdbd" class="k" stroke-width="1.8"/>
<rect x="820" y="635" width="8" height="9.4" fill="#dcdcdc" opacity="0.8"/>
<rect x="816.6" y="645.4" width="17.4" height="6.6" fill="#a2a2a2" class="k" stroke-width="1.8"/>
<!-- dial -->
<circle cx="827.2" cy="563.1" r="21.8" fill="#8a8a8a" class="k"/>
<circle cx="827.2" cy="563.1" r="17.8" fill="#f3f3f3" class="k" stroke-width="1.9"/>
<rect x="816.5" y="552.6" width="12" height="4.6" rx="0.8" fill="#d8303a"/>
<rect x="829" y="556.5" width="7" height="2.6" fill="#333"/>
<rect x="814.5" y="561.8" width="25" height="3.1" rx="1" fill="#2a2a2a"/>
<rect x="815" y="566.6" width="8.6" height="4.4" fill="#2a6f93"/>
<rect x="815" y="566.6" width="8.6" height="1.4" fill="#222"/>
<rect x="828.5" y="571.2" width="6" height="2.6" rx="1" fill="#2a6f93"/>
<rect x="825" y="567.5" width="7" height="1.3" fill="#9cc4dc"/>
<!-- GRASS TUFTS -->
<path d="M1075.3 378.3Q1086 382 1090.6 398.2Q1090 384 1083.4 371.8Q1092 380 1096.5 393Q1100 382 1096.1 370.5Q1103 382 1104.3 394.3Q1107 378 1102.3 364.6Q1109 378 1110.8 391Q1113 378 1110.8 365.6Q1116 380 1116.6 393.6Q1117 378 1119.2 366.9Q1122 380 1124.5 393.6Q1125 376 1132.9 364.3Q1130 378 1130.3 391.7Q1132 380 1138.8 371.5Q1135 384 1133.6 398.2Q1137 385 1147.2 378" fill="none" stroke="#0b0b0b" stroke-width="2.5" stroke-linejoin="round" stroke-linecap="round"/>
<path d="M976.1 498Q990 506 997.2 521.7Q997 508 988.4 496.7Q999 505 1004 515.8Q1002 496 990 480.2Q1005 496 1012.9 517.1Q1015 498 1011.2 481.5Q1018 500 1020.1 517.5Q1022 500 1025.2 482.4Q1028 500 1027.3 518.3Q1029 498 1039.1 483.6Q1037 500 1034.9 518.3Q1040 498 1055.6 483.6Q1046 500 1042.5 517.1Q1046 505 1056.1 496.7Q1051 507 1048.4 519.2Q1054 503 1071.7 493.4Q1058 506 1053.9 523.4" fill="none" stroke="#0b0b0b" stroke-width="2.1" stroke-linejoin="round" stroke-linecap="round"/>
<!-- ARROWS -->
<path d="M840.4 317.6V488" stroke="#0b0b0b" stroke-width="2.1" fill="none"/>
<path d="M833.7 486.6H847.3L840.5 501.7Z" fill="#0b0b0b"/>
<path d="M367.6 754.9L437 680.5" stroke="#0b0b0b" stroke-width="2.3" fill="none" stroke-linecap="round"/>
<path d="M444.3 672.8L439.8 684.8L430.3 677.9Z" fill="#0b0b0b"/>
<path d="M888.6 842.3L843 793.7" stroke="#0b0b0b" stroke-width="2.2" fill="none" stroke-linecap="round"/>
<path d="M834.4 784.9L850.3 791.7L840.6 800.5Z" fill="#0b0b0b"/>
<!-- TEXT -->
<text x="202.0" y="246.6" font-size="57.6" font-weight="bold" fill="#0a0a0a" textLength="136.5" lengthAdjust="spacingAndGlyphs">Water</text>
<text x="351.5" y="246.6" font-size="57.6" font-weight="bold" fill="#0a0a0a" textLength="308.5" lengthAdjust="spacingAndGlyphs">Responsiblity</text>
<text x="539.5" y="309.9" font-size="38.9" font-weight="bold" fill="#0a0a0a" textLength="61.0" lengthAdjust="spacingAndGlyphs">City</text>
<text x="610.0" y="309.9" font-size="38.9" font-weight="bold" fill="#0a0a0a" textLength="212.0" lengthAdjust="spacingAndGlyphs">Responsibility</text>
<text x="20.5" y="645.0" font-size="37.0" font-weight="bold" fill="#0a0a0a" textLength="82.0" lengthAdjust="spacingAndGlyphs">Malin</text>
<text x="111.5" y="645.0" font-size="37.0" font-weight="bold" fill="#0a0a0a" textLength="89.0" lengthAdjust="spacingAndGlyphs">Water</text>
<text x="206.5" y="645.0" font-size="37.0" font-weight="bold" fill="#0a0a0a" textLength="64.5" lengthAdjust="spacingAndGlyphs">Line</text>
<text x="20.5" y="684.4" font-size="36.9" font-weight="bold" fill="#0a0a0a" textLength="26.5" lengthAdjust="spacingAndGlyphs">in</text>
<text x="56.5" y="684.4" font-size="36.9" font-weight="bold" fill="#0a0a0a" textLength="47.0" lengthAdjust="spacingAndGlyphs">the</text>
<text x="111.5" y="684.4" font-size="36.9" font-weight="bold" fill="#0a0a0a" textLength="91.5" lengthAdjust="spacingAndGlyphs">Street</text>
<text x="122.5" y="795.6" font-size="38.2" font-weight="bold" fill="#0a0a0a" textLength="60.0" lengthAdjust="spacingAndGlyphs">City</text>
<text x="191.5" y="795.6" font-size="38.2" font-weight="bold" fill="#0a0a0a" textLength="210.5" lengthAdjust="spacingAndGlyphs">Responsibility</text>
<text x="491.0" y="811.8" font-size="39.6" font-weight="bold" fill="#0a0a0a" textLength="90.5" lengthAdjust="spacingAndGlyphs">Water</text>
<text x="590.0" y="811.8" font-size="39.6" font-weight="bold" fill="#0a0a0a" textLength="91.5" lengthAdjust="spacingAndGlyphs">Meter</text>
<text x="893.0" y="847.6" font-size="36.1" stroke="#b1b1b1" stroke-width="0.8" fill="#b1b1b1" textLength="179.0" lengthAdjust="spacingAndGlyphs">Homehowner</text>
<text x="892.5" y="886.9" font-size="37.3" font-weight="bold" fill="#0a0a0a" textLength="139.5" lengthAdjust="spacingAndGlyphs">Property</text>
<text x="1043.5" y="886.9" font-size="37.3" font-weight="bold" fill="#0a0a0a" textLength="104.5" lengthAdjust="spacingAndGlyphs">Owner</text>
<text x="890.5" y="928.8" font-size="37.8" font-weight="bold" fill="#0a0a0a" textLength="222.0" lengthAdjust="spacingAndGlyphs">Responsibility</text>
<!-- BADGE -->
<rect x="1237.3" y="926.2" width="284.2" height="81.2" rx="9" fill="#fff" stroke="#adadad" stroke-width="2.6"/>
<text x="1446.7" y="960" font-size="18" font-weight="bold" fill="#333" text-anchor="end" textLength="136.2" lengthAdjust="spacingAndGlyphs">Go Pro Plumbing</text>
<text x="1446.7" y="983" font-size="16" fill="#777" text-anchor="end" textLength="183" lengthAdjust="spacingAndGlyphs">goproplumbingrepair.com</text>
</svg>
</body></html>
